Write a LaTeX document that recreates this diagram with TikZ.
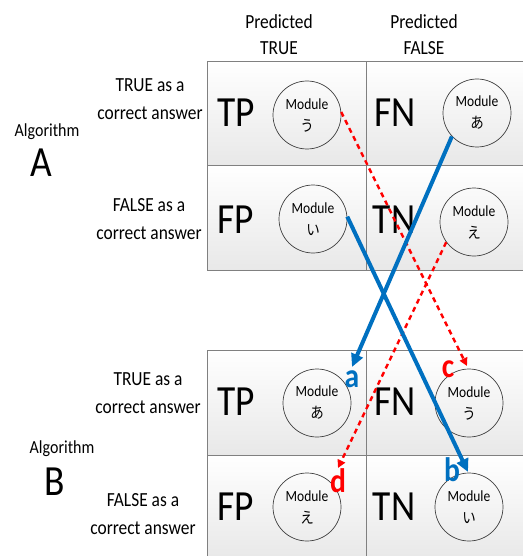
\documentclass[tikz,border=0pt]{standalone}
\usepackage{fontspec}
\setmainfont{Carlito}[FakeStretch=0.87]
\newfontfamily\jpfont{Noto Sans CJK JP}[FakeStretch=0.87]
\usepackage{xcolor}
\usepackage{tikz}
\usetikzlibrary{arrows.meta, positioning, calc}
\definecolor{arrblue}{RGB}{0, 112, 192}
\definecolor{arrred}{RGB}{255, 0, 0}
\definecolor{cellline}{RGB}{128, 128, 128}

\begin{document}
\begin{tikzpicture}[x=1pt, y=-1pt,
    cell/.style={draw=cellline, line width=0.8pt, top color=white, bottom color=white!91!black, minimum width=159pt, minimum height=105pt, inner sep=0pt},
    conf/.style={font=\fontsize{43}{43}\selectfont, inner sep=0pt},
    modc/.style={draw=black!75, line width=0.7pt, circle, minimum size=68pt, inner sep=0pt, align=center, font=\fontsize{15.5}{22}\selectfont},
    rowlbl/.style={align=center, font=\fontsize{20}{27.5}\selectfont},
    colhead/.style={align=center, font=\fontsize{20}{26}\selectfont},
    algo/.style={font=\fontsize{18.4}{22}\selectfont},
    algletter/.style={font=\fontsize{43}{43}\selectfont},
    bluearr/.style={arrblue, line width=4pt, -{Triangle[length=13pt, width=12pt]}},
    redarr/.style={arrred, line width=2.4pt, dash pattern=on 5pt off 4pt, -{Triangle[length=8pt, width=8pt]}},
    bluetag/.style={arrblue, font=\fontsize{34}{34}\selectfont\bfseries, inner sep=0pt},
    redtag/.style={arrred, font=\fontsize{34}{34}\selectfont\bfseries, inner sep=0pt}]
  \useasboundingbox (0,0) rectangle (522,556);

  % column heads
  \node[colhead] (hT) at (279,35) {Predicted\\TRUE};
  \node[colhead] (hF) at (424,35) {Predicted\\FALSE};

  % algorithm A
  \node[cell] (aTPc) at (286.5,113.5) {};
  \node[cell] (aFNc) at (445.5,113.5) {};
  \node[cell] (aFPc) at (286.5,218)   {};
  \node[cell] (aTNc) at (445.5,218)   {};
  \node[conf] (aTP) at (236,113) {TP};
  \node[conf] (aFN) at (395,113) {FN};
  \node[conf] (aFP) at (236,220) {FP};
  \node[conf] (aTN) at (394,220) {TN};
  \node[modc] (aU) at (307,115) {Module\\{\jpfont う}};
  \node[modc] (aA) at (477,113) {Module\\{\jpfont あ}};
  \node[modc] (aI) at (313,219) {Module\\{\jpfont い}};
  \node[modc] (aE) at (474,222) {Module\\{\jpfont え}};
  \node[rowlbl] (aTrue)  at (150,99)  {TRUE as a\\correct answer};
  \node[rowlbl] (aFalse) at (149,219) {FALSE as a\\correct answer};
  \node[algo] (algA) at (47,132) {Algorithm};
  \node[algletter] (letA) at (41,163) {A};

  % algorithm B
  \node[cell] (bTPc) at (286.5,402.5) {};
  \node[cell] (bFNc) at (445.5,402.5) {};
  \node[cell] (bFPc) at (286.5,507.5) {};
  \node[cell] (bTNc) at (445.5,507.5) {};
  \node[conf] (bTP) at (236,402) {TP};
  \node[conf] (bFN) at (395,402) {FN};
  \node[conf] (bFP) at (236,507) {FP};
  \node[conf] (bTN) at (394,507) {TN};
  \node[modc] (bA) at (317,403) {Module\\{\jpfont あ}};
  \node[modc] (bU) at (469,403) {Module\\{\jpfont う}};
  \node[modc] (bE) at (307,507) {Module\\{\jpfont え}};
  \node[modc] (bI) at (469,507) {Module\\{\jpfont い}};
  \node[rowlbl] (bTrue)  at (148,393) {TRUE as a\\correct answer};
  \node[rowlbl] (bFalse) at (143,514) {FALSE as a\\correct answer};
  \node[algo] (algB) at (62,449) {Algorithm};
  \node[algletter] (letB) at (55,482) {B};

  % moves between the two matrices
  \coordinate (tipa) at (352,367);
  \coordinate (tipb) at (468,472);
  \coordinate (tipc) at (467,366);
  \coordinate (tipd) at (338,468);
  \draw[redarr]  (aU.5)   -- (tipc);
  \draw[redarr]  (aE.216) -- (tipd);
  \draw[bluearr] (aA.223) -- (tipa);
  \draw[bluearr] (aI.4)   -- (tipb);
  \node[bluetag] (tagA) at (352,379) {a};
  \node[bluetag] (tagB) at (452,470) {b};
  \node[redtag]  (tagC) at (448,369) {c};
  \node[redtag]  (tagD) at (338,481) {d};
\end{tikzpicture}
\end{document}
